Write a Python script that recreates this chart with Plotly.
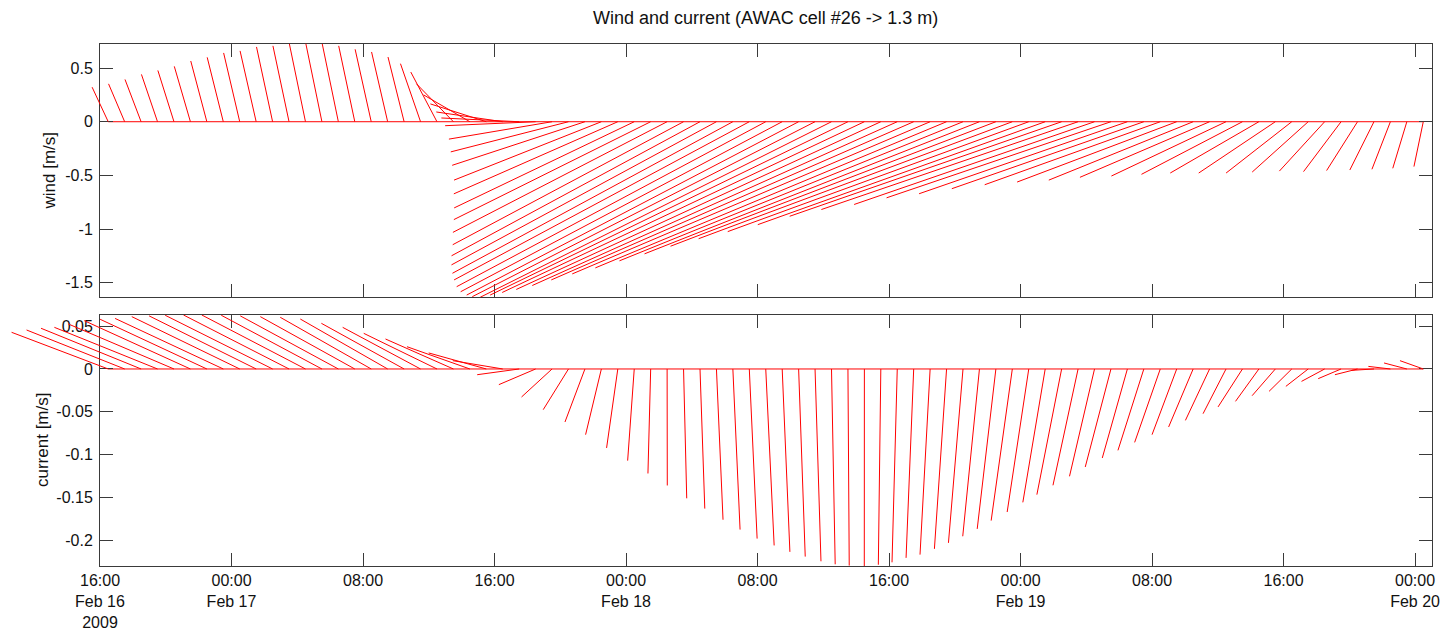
import plotly.graph_objects as go
from datetime import datetime, timedelta

# ---------------- data ----------------
t_start = datetime(2009, 2, 16, 16, 30)
times = [t_start + timedelta(hours=i) for i in range(81)]

# wind (m/s): east (u) and north (v) components
wind_u = [-0.150] * 19 + [
    -0.187, -0.244, -0.344, -0.431, -0.521, -0.619, -0.725, -0.843, -0.961, -1.097,
    -1.237, -1.373, -1.528, -1.678, -1.834, -1.996, -2.151, -2.315, -2.469, -2.613,
    -2.751, -2.880, -2.996, -3.093, -3.194, -3.274, -3.334, -3.375, -3.397, -3.401,
    -3.377, -3.335, -3.273, -3.201, -3.121, -3.032, -2.923, -2.805, -2.678, -2.534,
    -2.392, -2.240, -2.091, -1.941, -1.789, -1.636, -1.487, -1.345, -1.208, -1.068,
    -0.941, -0.826, -0.714, -0.612, -0.522, -0.422, -0.350, -0.288, -0.225, -0.172,
    -0.131, -0.087]
wind_v = [
    0.322, 0.353, 0.394, 0.441, 0.478, 0.516, 0.566, 0.600, 0.641, 0.660,
    0.697, 0.707, 0.725, 0.729, 0.725, 0.707, 0.675, 0.650, 0.603, 0.541,
    0.463, 0.353, 0.250, 0.166, 0.091, 0.035, -0.037, -0.162, -0.281, -0.406,
    -0.544, -0.672, -0.803, -0.912, -1.031, -1.146, -1.249, -1.334, -1.412, -1.474,
    -1.537, -1.584, -1.615, -1.630, -1.636, -1.615, -1.591, -1.563, -1.526, -1.474,
    -1.418, -1.362, -1.296, -1.231, -1.160, -1.090, -1.024, -0.959, -0.881, -0.818,
    -0.771, -0.709, -0.671, -0.624, -0.587, -0.562, -0.544, -0.518, -0.506, -0.490,
    -0.478, -0.478, -0.478, -0.469, -0.460, -0.465, -0.455, -0.450, -0.443, -0.434,
    -0.418]

# current (m/s)
cur_u = [
    -0.1128, -0.1145, -0.1168, -0.1204, -0.1233, -0.1240, -0.1246, -0.1263, -0.1260, -0.1250,
    -0.1254, -0.1232, -0.1210, -0.1175, -0.1145, -0.1103, -0.1062, -0.1020, -0.0966, -0.0909,
    -0.0855, -0.0793, -0.0734, -0.0672, -0.0583, -0.0490, -0.0429, -0.0356, -0.0295, -0.0233,
    -0.0184, -0.0131, -0.0077, -0.0032, 0.0002, 0.0037, 0.0056, 0.0077, 0.0084, 0.0091,
    0.0098, 0.0090, 0.0077, 0.0069, 0.0043, 0.0015, -0.0001, -0.0029, -0.0061, -0.0089,
    -0.0118, -0.0142, -0.0170, -0.0195, -0.0218, -0.0247, -0.0252, -0.0261, -0.0289, -0.0293,
    -0.0292, -0.0300, -0.0293, -0.0302, -0.0299, -0.0288, -0.0286, -0.0282, -0.0268, -0.0285,
    -0.0273, -0.0271, -0.0265, -0.0261, -0.0270, -0.0267, -0.0264, -0.0260, -0.0257, -0.0266,
    -0.0272]
cur_v = [
    0.0428, 0.0455, 0.0475, 0.0486, 0.0525, 0.0564, 0.0580, 0.0590, 0.0611, 0.0620,
    0.0627, 0.0630, 0.0630, 0.0627, 0.0620, 0.0611, 0.0603, 0.0583, 0.0533, 0.0486,
    0.0416, 0.0350, 0.0260, 0.0187, 0.0097, -0.0067, -0.0183, -0.0327, -0.0475, -0.0619,
    -0.0767, -0.0922, -0.1070, -0.1220, -0.1360, -0.1510, -0.1630, -0.1760, -0.1875, -0.1980,
    -0.2060, -0.2135, -0.2190, -0.2245, -0.2280, -0.2295, -0.2300, -0.2285, -0.2257, -0.2205,
    -0.2167, -0.2100, -0.2030, -0.1953, -0.1867, -0.1770, -0.1670, -0.1557, -0.1467, -0.1358,
    -0.1253, -0.1144, -0.1039, -0.0950, -0.0857, -0.0767, -0.0677, -0.0600, -0.0522, -0.0443,
    -0.0378, -0.0312, -0.0261, -0.0203, -0.0145, -0.0113, -0.0067, -0.0016, 0.0030, 0.0070,
    0.0097]

tick_times = [datetime(2009, 2, 16, 16) + timedelta(hours=8 * i) for i in range(11)]
tick_text = ["16:00<br>Feb 16<br>2009", "00:00<br>Feb 17", "08:00", "16:00",
             "00:00<br>Feb 18", "08:00", "16:00", "00:00<br>Feb 19", "08:00",
             "16:00", "00:00<br>Feb 20"]
wind_ticks = [-1.5, -1, -0.5, 0, 0.5]
wind_ticktext = ["-1.5", "-1", "-0.5", "0", "0.5"]
cur_ticks = [-0.2, -0.15, -0.1, -0.05, 0, 0.05]
cur_ticktext = ["-0.2", "-0.15", "-0.1", "-0.05", "0", "0.05"]

title = "Wind and current (AWAC cell #26 -> 1.3 m)"

# ---------------- layout geometry ----------------
W, H = 1443, 631
L, R = 100, 1431.5
top_px = (43.5, 297.3)
bot_px = (315, 566)
wind_range = [-1.636, 0.729]
cur_range = [-0.230, 0.063]
x_lo = datetime(2009, 2, 16, 16, 0)
x_hi = datetime(2009, 2, 20, 1, 0)

def pdom(a, b):
    return [1 - b / H, 1 - a / H]

span_h = (x_hi - x_lo).total_seconds() / 3600
px_per_hour = (R - L) / span_h

def hours_per_unit(rng, ypx):
    return ((ypx[1] - ypx[0]) / (rng[1] - rng[0])) / px_per_hour

def sticks(u, v, hpu):
    xs, ys = [], []
    for t, uu, vv in zip(times, u, v):
        xs += [t, t + timedelta(hours=uu * hpu), None]
        ys += [0, vv, None]
    return xs, ys

ov_lo = x_lo - timedelta(hours=L / px_per_hour)
ov_hi = x_hi + timedelta(hours=(W - R) / px_per_hour)

RED = "#ff0000"
AX = "#3a3a3a"
FONT = "Liberation Sans, Arial, sans-serif"

fig = go.Figure()
wx, wy = sticks(wind_u, wind_v, hours_per_unit(wind_range, top_px))
cx, cy = sticks(cur_u, cur_v, hours_per_unit(cur_range, bot_px))

fig.add_trace(go.Scatter(x=[times[0], times[-1]], y=[0, 0], mode="lines",
                         line=dict(color=RED, width=1), xaxis="x", yaxis="y",
                         hoverinfo="skip", showlegend=False))
fig.add_trace(go.Scatter(x=[times[0], times[-1]], y=[0, 0], mode="lines",
                         line=dict(color=RED, width=1), xaxis="x2", yaxis="y2",
                         hoverinfo="skip", showlegend=False))
fig.add_trace(go.Scatter(x=wx, y=wy, mode="lines", line=dict(color=RED, width=1),
                         xaxis="x3", yaxis="y", showlegend=False))
fig.add_trace(go.Scatter(x=cx, y=cy, mode="lines", line=dict(color=RED, width=1),
                         xaxis="x3", yaxis="y2", showlegend=False))

common_x = dict(type="date", range=[x_lo, x_hi], autorange=False, automargin=False,
                domain=[L / W, R / W], tickmode="array", tickvals=tick_times,
                ticks="inside", ticklen=13, tickwidth=1, tickcolor=AX,
                showline=True, linecolor=AX, linewidth=1, mirror="ticks",
                showgrid=False, zeroline=False,
                tickfont=dict(family=FONT, size=16, color="#111"))
common_y = dict(ticks="inside", ticklen=13, tickwidth=1, tickcolor=AX,
                showline=True, linecolor=AX, linewidth=1, mirror="ticks",
                showgrid=False, zeroline=False, autorange=False, automargin=False,
                tickfont=dict(family=FONT, size=16, color="#111"),
                tickmode="array", ticklabelstandoff=3)

fig.update_layout(
    template="none",
    width=W, height=H, autosize=False,
    margin=dict(l=0, r=0, t=0, b=0, pad=0),
    paper_bgcolor="white", plot_bgcolor="rgba(0,0,0,0)",
    showlegend=False,
    font=dict(family=FONT, size=16, color="#111"),
    xaxis=dict(common_x, anchor="y", showticklabels=False, ticktext=[""] * 11),
    xaxis2=dict(common_x, anchor="y2", ticktext=tick_text, ticklabelstandoff=0),
    xaxis3=dict(type="date", range=[ov_lo, ov_hi], autorange=False, domain=[0, 1],
                anchor="y", visible=False, automargin=False,
                showgrid=False, zeroline=False),
    yaxis=dict(common_y, anchor="x", domain=pdom(*top_px), range=wind_range,
               tickvals=wind_ticks, ticktext=wind_ticktext),
    yaxis2=dict(common_y, anchor="x2", domain=pdom(*bot_px), range=cur_range,
                tickvals=cur_ticks, ticktext=cur_ticktext),
    annotations=[
        dict(text=title, x=(L + R) / 2 / W, y=1 - 18 / H, xref="paper", yref="paper",
             showarrow=False, xanchor="center", yanchor="middle",
             font=dict(family=FONT, size=18, color="#111")),
        dict(text="wind [m/s]", x=49 / W, y=1 - 170.5 / H, xref="paper", yref="paper",
             showarrow=False, textangle=-90, xanchor="center", yanchor="middle",
             font=dict(family=FONT, size=17, color="#111")),
        dict(text="current [m/s]", x=42.5 / W, y=1 - 440.5 / H, xref="paper", yref="paper",
             showarrow=False, textangle=-90, xanchor="center", yanchor="middle",
             font=dict(family=FONT, size=17, color="#111")),
    ],
)

fig.write_html("out.html")
